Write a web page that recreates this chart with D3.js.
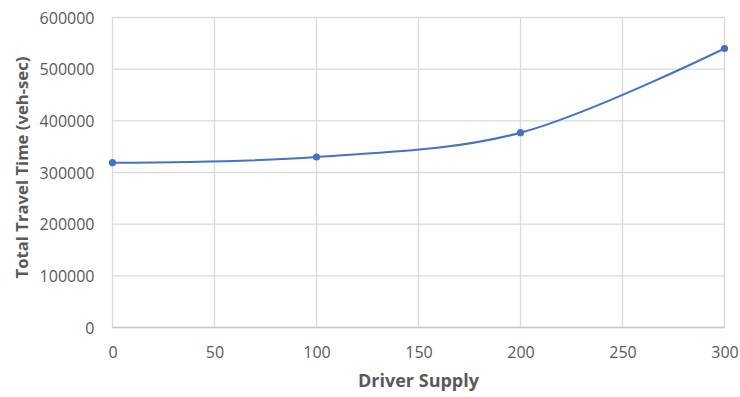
<!DOCTYPE html>
<html>
<head>
<meta charset="utf-8">
<script src="https://cdn.jsdelivr.net/npm/d3@7"></script>
<style>
  html, body { margin: 0; padding: 0; background: #fff; }
  svg { display: block; font-family: "Open Sans", "Noto Sans", sans-serif; }
</style>
</head>
<body>
<svg id="chart" width="740" height="397"></svg>
<script>
// Driver supply vs. total travel time
const driverSupply = [0, 100, 200, 300];
const travelTime = [319000, 330000, 377000, 540000];
const xTicks = [0, 50, 100, 150, 200, 250, 300];
const yTicks = [0, 100000, 200000, 300000, 400000, 500000, 600000];

const svg = d3.select("#chart");
const margin = { left: 112.5, right: 15.5, top: 17.5, bottom: 69.5 };
const W = 740, H = 397;

const x = d3.scaleLinear().domain([0, 300]).range([margin.left, W - margin.right]);
const y = d3.scaleLinear().domain([0, 600000]).range([H - margin.bottom, margin.top]);

const textColor = "#595959";
const gridColor = "#d9d9d9";
const lineColor = "#4472C4";

// gridlines
svg.append("g")
  .selectAll("line.h")
  .data(yTicks)
  .join("line")
  .attr("x1", x(0)).attr("x2", x(300))
  .attr("y1", d => y(d)).attr("y2", d => y(d))
  .attr("stroke", gridColor).attr("stroke-width", 1.3);

svg.append("g")
  .selectAll("line.v")
  .data(xTicks)
  .join("line")
  .attr("x1", d => x(d)).attr("x2", d => x(d))
  .attr("y1", y(0)).attr("y2", y(600000))
  .attr("stroke", gridColor).attr("stroke-width", 1.3);

// bottom axis line
svg.append("line")
  .attr("x1", x(0)).attr("x2", x(300))
  .attr("y1", y(0)).attr("y2", y(0))
  .attr("stroke", "#c8c8c8").attr("stroke-width", 1.3);

// axes (labels only, via d3 axes)
const xAxis = svg.append("g")
  .attr("transform", `translate(0,${y(0)})`)
  .call(d3.axisBottom(x).tickValues(xTicks).tickSize(0).tickPadding(19).tickFormat(d3.format("d")));
xAxis.select(".domain").remove();
xAxis.selectAll("text")
  .attr("fill", textColor)
  .style("font-size", "16px")
  .style("font-family", "'Open Sans', sans-serif");

const yAxis = svg.append("g")
  .attr("transform", `translate(${x(0)},0)`)
  .call(d3.axisLeft(y).tickValues(yTicks).tickSize(0).tickPadding(18).tickFormat(d3.format("d")));
yAxis.select(".domain").remove();
yAxis.selectAll("text")
  .attr("fill", textColor)
  .attr("dy", "0.35em")
  .style("font-size", "16px")
  .style("font-family", "'Open Sans', sans-serif");

// series line
const pts = driverSupply.map((d, i) => [d, travelTime[i]]);
const line = d3.line()
  .x(d => x(d[0]))
  .y(d => y(d[1]))
  .curve(d3.curveCardinal.tension(0));

svg.append("path")
  .datum(pts)
  .attr("d", line)
  .attr("fill", "none")
  .attr("stroke", lineColor)
  .attr("stroke-width", 2);

svg.append("g")
  .selectAll("circle")
  .data(pts)
  .join("circle")
  .attr("cx", d => x(d[0]))
  .attr("cy", d => y(d[1]))
  .attr("r", 3.6)
  .attr("fill", lineColor);

// axis titles
svg.append("text")
  .attr("x", x(150))
  .attr("y", 387)
  .attr("text-anchor", "middle")
  .attr("fill", textColor)
  .style("font-size", "18px")
  .style("font-weight", "bold")
  .text("Driver Supply");

svg.append("text")
  .attr("transform", `translate(28,167.5) rotate(-90)`)
  .attr("text-anchor", "middle")
  .attr("fill", textColor)
  .style("font-size", "16.7px")
  .style("font-weight", "bold")
  .text("Total Travel Time (veh-sec)");
</script>
</body>
</html>
